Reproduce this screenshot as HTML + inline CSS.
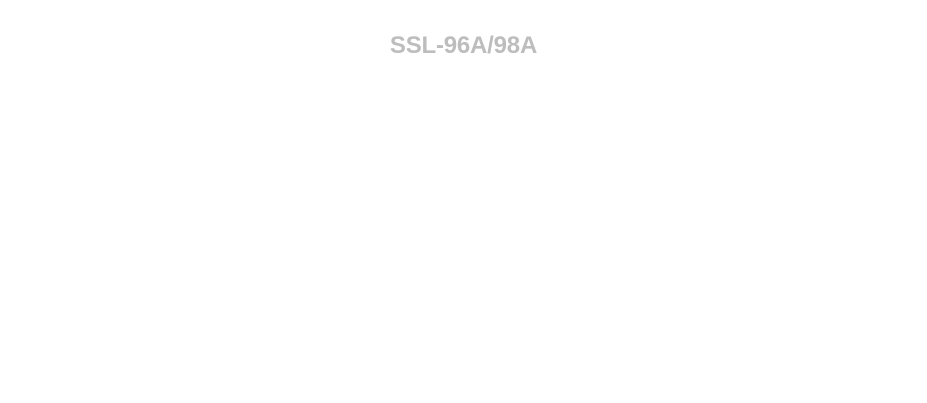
<!DOCTYPE html>
<html><head><meta charset="utf-8"><style>
html,body{margin:0;padding:0;background:#fff;width:927px;height:403px;overflow:hidden}
.t{position:absolute;left:0;width:927px;top:31px;text-align:center;font-family:"Liberation Sans",sans-serif;font-weight:bold;font-size:24px;line-height:30px;color:#bdbdbd;letter-spacing:-0.2px}
</style></head><body>
<div class="t">SSL-96A/98A</div>
</body></html>
